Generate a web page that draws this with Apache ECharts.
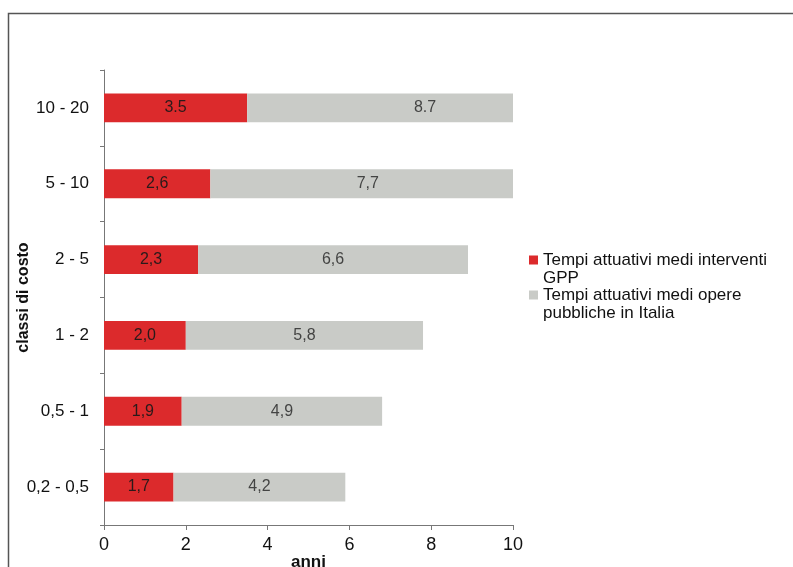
<!DOCTYPE html>
<html>
<head>
<meta charset="utf-8">
<script src="https://cdn.jsdelivr.net/npm/echarts@6/dist/echarts.min.js"></script>
<style>html,body{margin:0;padding:0;background:#fff}#c{width:793px;height:567px}</style>
</head>
<body>
<div id="c"></div>
<script>
var categories = ['0,2 - 0,5', '0,5 - 1', '1 - 2', '2 - 5', '5 - 10', '10 - 20'];
var gppValues = [1.7, 1.9, 2.0, 2.3, 2.6, 3.5];
var italiaValues = [4.2, 4.9, 5.8, 6.6, 7.7, 8.7];
var gppLabels = ['1,7', '1,9', '2,0', '2,3', '2,6', '3.5'];
var italiaLabels = ['4,2', '4,9', '5,8', '6,6', '7,7', '8.7'];
var xTicks = [0, 2, 4, 6, 8, 10];
var seriesNames = ['Tempi attuativi medi interventi\nGPP', 'Tempi attuativi medi opere\npubbliche in Italia'];

var FONT = '"Liberation Sans", Arial, sans-serif';
var RED = '#dc2a2c';
var GRAY = '#c9cbc7';

// label anchor for the grey segment: middle of the full (unclipped) segment
var italiaLabelPos = italiaValues.map(function (v, i) { return [gppValues[i] + v / 2, categories[i]]; });

var chart = echarts.init(document.getElementById('c'), null, {renderer: 'canvas'});
chart.setOption({
  animation: false,
  backgroundColor: '#fff',
  textStyle: {fontFamily: FONT},
  graphic: [{
    type: 'rect',
    shape: {x: 8.5, y: 13.5, width: 900, height: 700},
    style: {fill: 'none', stroke: '#555', lineWidth: 1.5},
    silent: true
  }],
  grid: {left: 104, right: 280, top: 70, bottom: 42, containLabel: false, outerBoundsMode: 'none'},
  legend: {
    data: seriesNames,
    orient: 'vertical',
    left: 529,
    top: 251,
    padding: 0,
    itemWidth: 9,
    itemHeight: 36,
    itemGap: -1,
    icon: 'path://M0,0L0.001,0L0.001,0.001Z M0,4.5L9,4.5L9,13.5L0,13.5Z M0,36L0.001,36L0.001,35.999Z',
    textStyle: {fontFamily: FONT, fontSize: 17, color: '#111', lineHeight: 18},
    selectedMode: false
  },
  xAxis: {
    type: 'value',
    min: xTicks[0],
    max: xTicks[xTicks.length - 1],
    interval: 2,
    name: 'anni',
    nameLocation: 'middle',
    nameGap: 29,
    nameMoveOverlap: false,
    nameTextStyle: {fontFamily: FONT, fontSize: 17, fontWeight: 'bold', color: '#111'},
    axisLine: {show: true, lineStyle: {color: '#777', width: 1}},
    axisTick: {show: true, length: 5, lineStyle: {color: '#777'}},
    axisLabel: {fontFamily: FONT, fontSize: 18, color: '#111', margin: 11},
    splitLine: {show: false}
  },
  yAxis: {
    type: 'category',
    data: categories,
    name: 'classi di costo',
    nameLocation: 'middle',
    nameGap: 72,
    nameMoveOverlap: false,
    nameRotate: 90,
    nameTextStyle: {fontFamily: FONT, fontSize: 16, fontWeight: 'bold', color: '#111'},
    axisLine: {show: true, lineStyle: {color: '#777', width: 1}},
    axisTick: {show: true, length: 4, inside: false, lineStyle: {color: '#777'}},
    axisLabel: {fontFamily: FONT, fontSize: 17, color: '#111', margin: 15}
  },
  series: [
    {
      name: seriesNames[0],
      type: 'bar',
      stack: 'tot',
      barWidth: '38%',
      itemStyle: {color: RED},
      label: {
        show: true, position: 'inside', fontFamily: FONT, fontSize: 16, color: '#2a1a1a',
        formatter: function (p) { return gppLabels[p.dataIndex]; }
      },
      data: gppValues
    },
    {
      name: seriesNames[1],
      type: 'bar',
      stack: 'tot',
      barWidth: '38%',
      itemStyle: {color: GRAY},
      label: {show: false},
      data: italiaValues
    },
    {
      type: 'scatter',
      symbolSize: 1,
      itemStyle: {color: 'rgba(0,0,0,0)'},
      silent: true,
      label: {
        show: true, position: 'inside', fontFamily: FONT, fontSize: 16, color: '#222',
        formatter: function (p) { return italiaLabels[p.dataIndex]; }
      },
      data: italiaLabelPos
    }
  ]
});
</script>
</body>
</html>
